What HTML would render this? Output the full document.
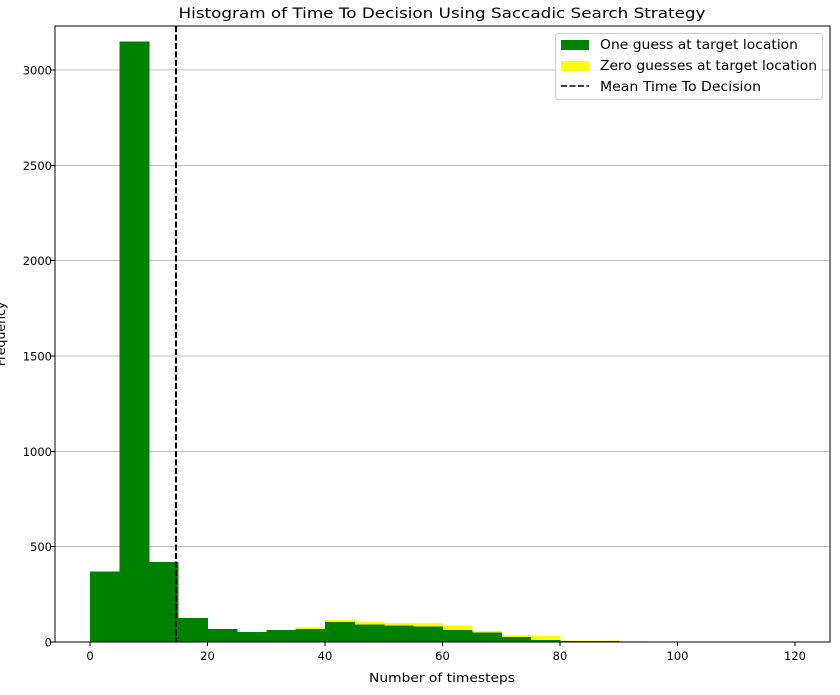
<!DOCTYPE html>
<html><head><meta charset="utf-8"><style>
body{margin:0;background:#fff;font-family:"Liberation Sans","DejaVu Sans",sans-serif;}
svg text{font-family:"DejaVu Sans","Liberation Sans",sans-serif;}
</style></head><body>
<svg id="c" width="840" height="690" xmlns="http://www.w3.org/2000/svg" shape-rendering="crispEdges"></svg>
<script>
const binEdgesStart = [0,5,10,15,20,25,30,35,40,45,50,55,60,65,70,75,80,85,90,95,100,105,110,115];
const greenCounts = [370,3150,420,126,68,52,63,68,105,91,86,80,63,49,26,10,6,6,2,1,1,0,0,0];
const yellowCounts = [370,3150,420,126,68,52,63,79,115,105,100,100,86,58,37,31,9,8,5,2,2,1,0,0];
const xTicks = [0,20,40,60,80,100,120];
const yTicks = [0,500,1000,1500,2000,2500,3000];
const meanValue = 14.64;
const binWidth = 5;

const svg = document.getElementById('c');
const NS = 'http://www.w3.org/2000/svg';
const L=55,R=830,T=26,B=642;
const xs = v => 90 + v*(705/120);
const ys = v => B - v*(572/3000);
function mk(tag, attrs){const e=document.createElementNS(NS,tag);for(const k in attrs)e.setAttribute(k,attrs[k]);svg.appendChild(e);return e;}

yTicks.forEach(t=>{
  const g=mk('line',{x1:L,x2:R,y1:ys(t),y2:ys(t),stroke:'#c0c0c0','stroke-width':1});
  
  
});
binEdgesStart.forEach((s,i)=>{
  const v=yellowCounts[i]; if(!v) return;
  const r=mk('rect',{x:xs(s),y:ys(v),width:xs(s+binWidth)-xs(s)+0.5,height:B-ys(v),fill:'#ffff00'});
  
  
});
binEdgesStart.forEach((s,i)=>{
  const v=greenCounts[i]; if(!v) return;
  const r=mk('rect',{x:xs(s),y:ys(v),width:xs(s+binWidth)-xs(s)+0.5,height:B-ys(v),fill:'#008000'});
  
  
});
const ml=mk('line',{x1:xs(meanValue),x2:xs(meanValue),y1:T,y2:B,stroke:'#000','stroke-width':1.6,'stroke-dasharray':'6,2.5'});


const fr=mk('rect',{x:L,y:T,width:R-L,height:B-T,fill:'none',stroke:'#000','stroke-width':1});


xTicks.forEach(t=>{
  const l=mk('line',{x1:xs(t),x2:xs(t),y1:B,y2:B+4,stroke:'#000'});
  
  
  const tx=mk('text',{x:xs(t),y:B+18,'text-anchor':'middle','font-size':11.5});
  tx.textContent=t;
  
  
});
yTicks.forEach(t=>{
  const l=mk('line',{x1:L-4,x2:L,y1:ys(t),y2:ys(t),stroke:'#000'});
  
  
  const tx=mk('text',{x:L-3,y:ys(t)+4.5,'text-anchor':'end','font-size':11.5});
  tx.textContent=t;
  
  
});
</script>
<svg width="840" height="690" style="position:absolute;left:0;top:0" xmlns="http://www.w3.org/2000/svg">
<text x="442" y="18" text-anchor="middle" font-size="14.4" textLength="527" lengthAdjust="spacingAndGlyphs">Histogram of Time To Decision Using Saccadic Search Strategy</text>
<text x="442" y="682" text-anchor="middle" font-size="12.5" textLength="146" lengthAdjust="spacingAndGlyphs">Number of timesteps</text>
<text transform="translate(5,334) rotate(-90)" text-anchor="middle" font-size="12.5">Frequency</text>
<g>
<rect x="555.5" y="33.5" width="267" height="66" rx="3" fill="#fff" fill-opacity="0.85" stroke="#ccc"/>
<rect x="561" y="40" width="28" height="10" fill="#008000"/>
<text x="600" y="49" font-size="13" textLength="198" lengthAdjust="spacingAndGlyphs">One guess at target location</text>
<rect x="561" y="61" width="28" height="10" fill="#ffff00"/>
<text x="600" y="70" font-size="13" textLength="217" lengthAdjust="spacingAndGlyphs">Zero guesses at target location</text>
<line x1="561" x2="589" y1="86" y2="86" stroke="#000" stroke-width="1.6" stroke-dasharray="6,2.5"/>
<text x="600" y="91" font-size="13" textLength="161" lengthAdjust="spacingAndGlyphs">Mean Time To Decision</text>
</g>
</svg>
</body></html>
